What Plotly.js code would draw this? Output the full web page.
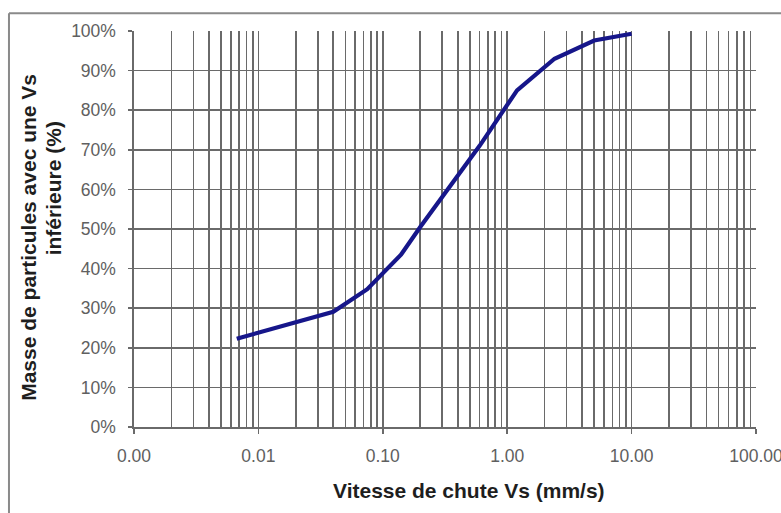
<!DOCTYPE html>
<html>
<head>
<meta charset="utf-8">
<script src="https://cdn.plot.ly/plotly-3.0.1.min.js"></script>
<style>html,body{margin:0;padding:0;background:#fff;}#chart{width:781px;height:513px;}</style>
</head>
<body>
<div id="chart"></div>
<script>
// Data
const vitesse = [0.0067, 0.02, 0.04, 0.075, 0.14, 0.2, 0.3, 0.6, 1.2, 2.4, 5, 10];
const masse   = [22.3, 26.4, 29.1, 34.8, 43.5, 50.5, 58.0, 71.0, 85.0, 93.0, 97.6, 99.3];
const xTickVals = [0.001, 0.01, 0.1, 1, 10, 100];
const xTickText = ['0.00', '0.01', '0.10', '1.00', '10.00', '100.00'];
const yTickVals = [0, 10, 20, 30, 40, 50, 60, 70, 80, 90, 100];
const yTickText = ['0%', '10%', '20%', '30%', '40%', '50%', '60%', '70%', '80%', '90%', '100%'];
const xTitle = 'Vitesse de chute Vs (mm/s)';
const yTitle1 = 'Masse de particules avec une Vs';
const yTitle2 = 'inférieure (%)';

const minorVals = [];
for (let e = -3; e < 2; e++) {
  for (let d = 2; d <= 9; d++) minorVals.push(d * Math.pow(10, e));
}

const gridC = '#6a6a6a';
const gw = 1.6;
const tickFont = {size: 17.5, color: '#606060'};
const titleFont = {size: 21, color: '#1e1e1e', weight: 'bold', family: 'Liberation Sans, Arial, sans-serif'};

const trace = {
  x: vitesse, y: masse, type: 'scatter', mode: 'lines',
  line: {color: '#16168a', width: 4.2},
  hoverinfo: 'skip'
};

const layout = {
  width: 781, height: 513,
  margin: {l: 134, r: 25, t: 31, b: 86},
  paper_bgcolor: '#fff', plot_bgcolor: '#fff',
  showlegend: false,
  font: {family: 'Liberation Sans, Arial, sans-serif'},
  xaxis: {
    type: 'log', range: [-3, 2],
    tickmode: 'array', tickvals: xTickVals, ticktext: xTickText,
    tickfont: tickFont,
    ticklabeloverflow: 'allow',
    ticks: 'outside', ticklen: 5, tickcolor: gridC, tickwidth: gw,
    ticklabelstandoff: 7,
    showgrid: true, gridcolor: gridC, gridwidth: gw,
    minor: {tickvals: minorVals, showgrid: true, gridcolor: gridC, gridwidth: gw, ticks: ''},
    showline: true, linecolor: gridC, linewidth: gw,
    zeroline: false
  },
  yaxis: {
    range: [0, 100],
    tickmode: 'array', tickvals: yTickVals, ticktext: yTickText,
    tickfont: tickFont,
    ticks: 'outside', ticklen: 4, tickcolor: gridC, tickwidth: gw,
    ticklabelstandoff: 9,
    showgrid: true, gridcolor: gridC, gridwidth: gw,
    showline: true, linecolor: gridC, linewidth: gw,
    zeroline: false
  },
  annotations: [
    {text: xTitle, xref: 'paper', yref: 'paper', x: 0.538, y: -0.160, xanchor: 'center', yanchor: 'middle', showarrow: false, font: titleFont},
    {text: yTitle1, xref: 'paper', yref: 'paper', x: -0.1696, y: 0.479, xanchor: 'center', yanchor: 'middle', textangle: -90, showarrow: false, font: titleFont},
    {text: yTitle2, xref: 'paper', yref: 'paper', x: -0.1294, y: 0.6015, xanchor: 'center', yanchor: 'middle', textangle: -90, showarrow: false, font: titleFont}
  ],
  shapes: [
    {type: 'line', xref: 'paper', yref: 'paper', x0: -0.201, x1: 1.1, y0: 1.045, y1: 1.045, line: {color: '#8a8a8a', width: 2}},
    {type: 'line', xref: 'paper', yref: 'paper', x0: -0.201, x1: -0.201, y0: 1.045, y1: -0.3, line: {color: '#8a8a8a', width: 2}}
  ]
};

Plotly.newPlot('chart', [trace], layout, {staticPlot: true, displayModeBar: false});
</script>
</body>
</html>
